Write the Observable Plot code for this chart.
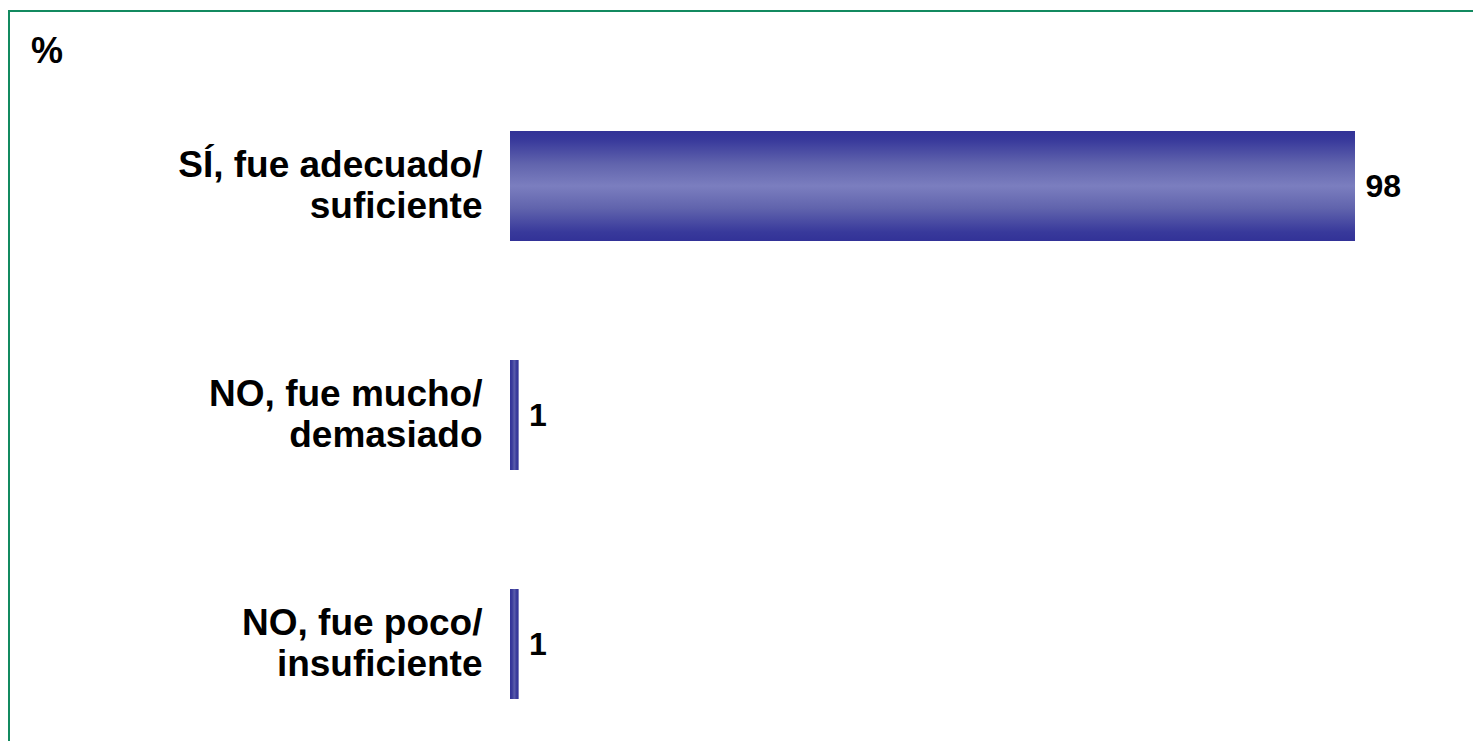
<!DOCTYPE html>
<html>
<head>
<meta charset="utf-8">
<script src="https://cdn.jsdelivr.net/npm/d3@7"></script>
<script src="https://cdn.jsdelivr.net/npm/@observablehq/plot@0.6"></script>
<style>
  html, body { margin: 0; padding: 0; background: #fff; overflow: hidden; }
  #wrap { position: relative; width: 1473px; height: 741px; overflow: hidden; font-family: "Liberation Sans", Arial, sans-serif; }
  #frame { position: absolute; left: 8px; top: 10px; width: 3000px; height: 3000px;
           border-top: 2px solid #138a60; border-left: 2px solid #138a60; box-sizing: border-box; }
  #unit { position: absolute; left: 31px; top: 33px; font-size: 36px; line-height: 1; font-weight: bold; color: #000; }
  #chart { position: absolute; left: 0; top: 0; }
</style>
</head>
<body>
<div id="wrap">
  <div id="frame"></div>
  <div id="unit">%</div>
  <div id="chart"></div>
</div>
<script>
const categories = [
  "SÍ, fue adecuado/\nsuficiente",
  "NO, fue mucho/\ndemasiado",
  "NO, fue poco/\ninsuficiente"
];
const values = [98, 1, 1];
const unitLabel = "%";

const data = categories.map((c, i) => ({category: c, value: values[i]}));

const font = "Liberation Sans, Arial, sans-serif";

const chart = Plot.plot({
  width: 1473,
  height: 741,
  marginLeft: 510,
  marginRight: 118,
  marginTop: 107,
  marginBottom: 19,
  style: {fontFamily: font, background: "transparent", overflow: "visible"},
  x: {domain: [0, 98], axis: null},
  y: {domain: categories, paddingInner: 0.52, paddingOuter: 0.1, label: null},
  color: {type: "identity"},
  marks: [
    Plot.barX(data, {
      x: "value",
      y: "category",
      fill: d => d.value > 5 ? "url(#gradV)" : "url(#gradH)"
    }),
    Plot.text(data, {
      x: "value",
      y: "category",
      text: d => String(d.value),
      dx: 10,
      textAnchor: "start",
      fontSize: 32,
      fontWeight: "bold",
      fill: "#000"
    }),
    Plot.axisY({
      tickSize: 0,
      tickPadding: 28,
      fontSize: 37,
      fontWeight: "bold",
      lineHeight: 1.11,
      dy: -2,
      fill: "#000",
      label: null
    })
  ]
});

// gradient definitions (vertical shading for wide bars, horizontal for thin ones)
const ns = "http://www.w3.org/2000/svg";
const defs = document.createElementNS(ns, "defs");
function grad(id, horizontal, stops) {
  const g = document.createElementNS(ns, "linearGradient");
  g.setAttribute("id", id);
  g.setAttribute("x1", "0"); g.setAttribute("y1", "0");
  g.setAttribute("x2", horizontal ? "1" : "0"); g.setAttribute("y2", horizontal ? "0" : "1");
  stops.forEach(([o, c]) => {
    const s = document.createElementNS(ns, "stop");
    s.setAttribute("offset", o);
    s.setAttribute("stop-color", c);
    g.appendChild(s);
  });
  defs.appendChild(g);
}
grad("gradV", false, [[0, "#323297"], [0.08, "#38399b"], [0.3, "#6164ad"], [0.5, "#7b7ebf"], [0.7, "#6164ad"], [0.92, "#38399b"], [1, "#323297"]]);
grad("gradH", true, [[0, "#323297"], [0.25, "#3b3c9c"], [0.5, "#5a5caa"], [0.75, "#3b3c9c"], [1, "#323297"]]);
chart.insertBefore(defs, chart.firstChild);

document.getElementById("chart").appendChild(chart);
document.getElementById("unit").textContent = unitLabel;
</script>
</body>
</html>
